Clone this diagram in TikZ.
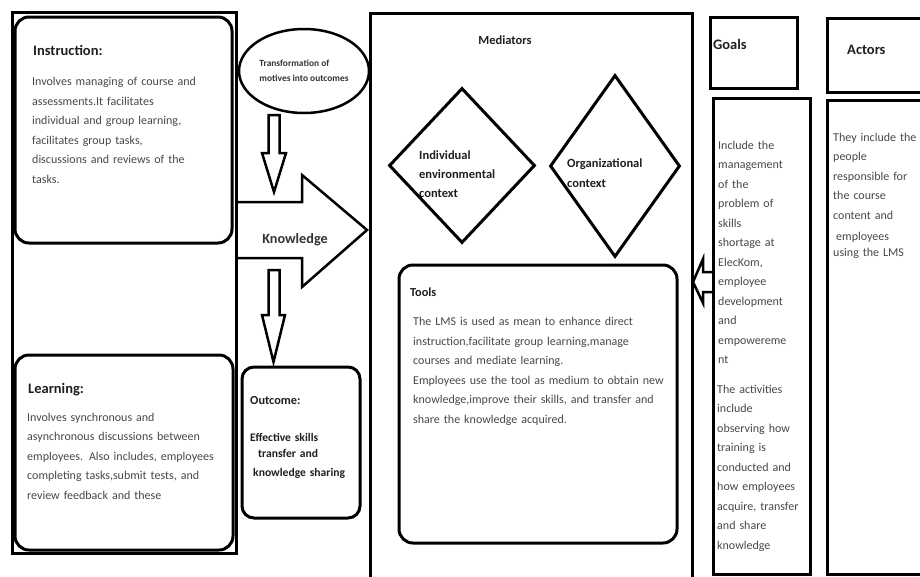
\documentclass[tikz,border=0pt]{standalone}
\usepackage{fontspec}
\setmainfont{Carlito}
\usetikzlibrary{shapes.geometric}

\begin{document}
\begin{tikzpicture}[x=1pt,y=-1pt,
    frame/.style={draw,line width=3pt},
    panel/.style={draw,line width=3pt,rounded corners=14pt},
    hollow/.style={draw,line width=2.5pt,line join=miter},
    bodytext/.style={anchor=base west,inner sep=0pt,text width=#1,align=left,
      text=black!72,font=\fontsize{12}{19.5}\selectfont},
    bodytext/.default=260pt,
    headtext/.style={anchor=base west,inner sep=0pt,text=black!88,
      font=\bfseries\fontsize{14.5}{17}\selectfont},
    boldtext/.style={anchor=base west,inner sep=0pt,text width=#1,align=left,
      text=black!88,font=\bfseries\fontsize{12.3}{19.5}\selectfont},
    boldtext/.default=120pt,
    context/.style={diamond,draw,line width=3pt,inner sep=0pt}]

    \clip (0,0) rectangle (920,576);

    % Left column: instruction and learning
    \draw[frame] (12,12) rectangle (236,553);
    \draw[panel] (15,17) rectangle (232,243);
    \node[headtext] (instrhead) at (33,55) {Instruction:};
    \node[bodytext] (instrbody) at (32,85.5) {Involves managing of course and\\
      assessments.It facilitates\\ individual and group learning,\\
      facilitates group tasks,\\ discussions and reviews of the\\ tasks.};
    \draw[panel] (15,355) rectangle (233,550);
    \node[headtext] (learnhead) at (28,393) {Learning:};
    \node[bodytext] (learnbody) at (27,421) {Involves synchronous and\\
      asynchronous discussions between\\ employees. Also includes, employees\\
      completing tasks,submit tests, and\\ review feedback and these};

    % Transformation and knowledge flow
    \node[ellipse,draw,line width=2.5pt,minimum width=130pt,minimum height=84pt,
      inner sep=0pt,align=left,text=black!80,font=\bfseries\fontsize{9.4}{15}\selectfont]
      (transform) at (304,71) {Transformation of\\ motives into outcomes};
    \draw[hollow] (268.5,115) -- (279.5,115) -- (279.5,153) -- (286,153) -- (274,192)
      -- (262,153) -- (268.5,153) -- cycle;
    \draw[hollow] (236,202) -- (302,202) -- (302,175) -- (367,230) -- (302,287)
      -- (302,258) -- (236,258);
    \node[text=black!80,font=\bfseries\fontsize{14.2}{17}\selectfont] (knowledge)
      at (295,240) {Knowledge};
    \draw[hollow] (268.5,270) -- (279.5,270) -- (279.5,315) -- (285,315) -- (273.5,362)
      -- (262,315) -- (268.5,315) -- cycle;
    \draw[panel,rounded corners=12pt] (242,367) rectangle (360,518);
    \node[boldtext] (outhead) at (250,404) {Outcome:};
    \node[boldtext,font=\bfseries\fontsize{11.6}{16}\selectfont] (outbody) at (250,441)
      {Effective skills\\ \hspace*{8pt}transfer and\\[3pt] \hspace*{3pt}knowledge sharing};

    % Mediators
    \draw[frame] (370,13) rectangle (692,580);
    \node[text=black!88,font=\bfseries\fontsize{12.5}{15}\selectfont] (medhead)
      at (505,40) {Mediators};
    \node[context,minimum width=146pt,minimum height=155pt] (indiv) at (462,165.5) {};
    \node[boldtext,font=\bfseries\fontsize{12.5}{19}\selectfont] (indivtext)
      at (419,159) {Individual\\ environmental\\ context};
    \node[context,minimum width=130pt,minimum height=182pt] (org) at (615,166) {};
    \node[boldtext,font=\bfseries\fontsize{12.5}{20}\selectfont] (orgtext)
      at (567,167) {Organizational\\ context};
    \draw[panel] (399,265) rectangle (677,543);
    \node[boldtext] (toolhead) at (410,296) {Tools};
    \node[bodytext] (toolbody) at (413,325.5) {The LMS is used as mean to enhance direct\\
      instruction,facilitate group learning,manage\\ courses and mediate learning.\\
      Employees use the tool as medium to obtain new\\
      knowledge,improve their skills, and transfer and\\ share the knowledge acquired.};

    % Goals
    \draw[hollow] (713,272) -- (703,272) -- (703,259) -- (693,282) -- (703,303)
      -- (703,292) -- (713,292);
    \draw[frame] (710,17) rectangle (797,88);
    \node[headtext] (goalhead) at (713,49) {Goals};
    \draw[frame] (713,98) rectangle (810,574);
    \node[bodytext=90pt] (goalbody) at (718,149) {Include the\\ management\\ of the\\
      problem of\\ skills\\ shortage at\\ ElecKom,\\ employee\\ development\\ and\\
      empowereme\\ nt\\[10pt]
      \hspace*{-1pt}The activities\\ \hspace*{-1pt}include\\ \hspace*{-1pt}observing how\\
      \hspace*{-1pt}training is\\ \hspace*{-1pt}conducted and\\ \hspace*{-1pt}how employees\\
      \hspace*{-1pt}acquire, transfer\\ \hspace*{-1pt}and share\\ \hspace*{-1pt}knowledge};

    % Actors
    \draw[frame] (827,18) rectangle (930,92);
    \node[headtext] (acthead) at (847,54) {Actors};
    \draw[frame] (827,100) rectangle (930,574);
    \node[bodytext=90pt] (actbody) at (833,141) {They include the\\ people\\
      responsible for\\ the course\\ content and\\[2pt] \hspace*{3pt}employees\\[-4pt]
      using the LMS};
\end{tikzpicture}
\end{document}
